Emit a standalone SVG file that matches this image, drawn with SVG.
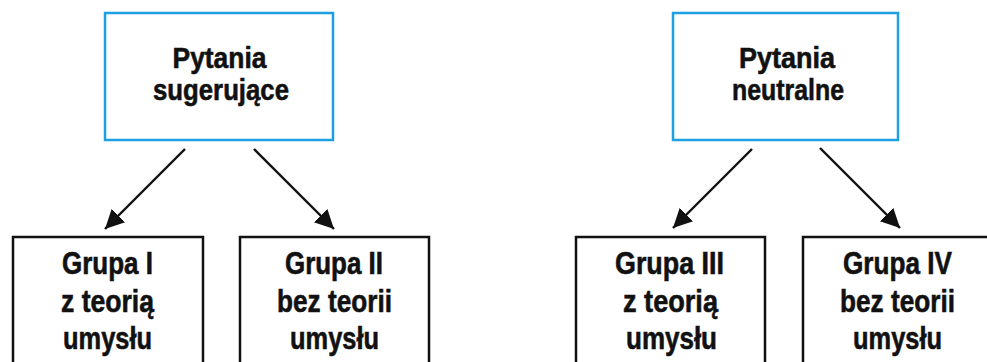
<svg xmlns="http://www.w3.org/2000/svg" width="987" height="362" viewBox="0 0 987 362">
<style>
.top{fill:#fff;stroke:#1ba1e2;stroke-width:2.5}
.grp{fill:#fff;stroke:#111;stroke-width:2.5}
text{font-family:"Liberation Sans",Arial,sans-serif;font-weight:bold;fill:#111;stroke:#111;stroke-width:0.6;text-anchor:middle}
.t{font-size:30px}
.b{font-size:32px}
.c{stroke:#111;stroke-width:2.4;fill:none}
</style>
<defs>
<marker id="ah" markerUnits="userSpaceOnUse" markerWidth="22" markerHeight="22" viewBox="0 0 22 22" refX="19" refY="11" orient="auto">
<path d="M0,1.5 L19,11 L0,20.5 Z" fill="#111"/>
</marker>
</defs>
<rect width="987" height="362" fill="#fff"/>
<g id="node-sugerujace">
<rect class="top" x="105" y="13" width="228" height="127"/>
<text class="t" x="219.5" y="68" textLength="94" lengthAdjust="spacingAndGlyphs">Pytania</text>
<text class="t" x="221" y="100" textLength="136" lengthAdjust="spacingAndGlyphs">sugerujące</text>
</g>
<g id="node-neutralne">
<rect class="top" x="673" y="13" width="225" height="127"/>
<text class="t" x="787" y="68" textLength="96" lengthAdjust="spacingAndGlyphs">Pytania</text>
<text class="t" x="788" y="100" textLength="112" lengthAdjust="spacingAndGlyphs">neutralne</text>
</g>
<g id="node-grupa1">
<rect class="grp" x="13" y="237" width="190" height="150"/>
<text class="b" x="107.5" y="274" textLength="91" lengthAdjust="spacingAndGlyphs">Grupa I</text>
<text class="b" x="107.5" y="312" textLength="93" lengthAdjust="spacingAndGlyphs">z teorią</text>
<text class="b" x="107.5" y="349" textLength="89" lengthAdjust="spacingAndGlyphs">umysłu</text>
</g>
<g id="node-grupa2">
<rect class="grp" x="240" y="237" width="189" height="150"/>
<text class="b" x="334" y="274" textLength="98" lengthAdjust="spacingAndGlyphs">Grupa II</text>
<text class="b" x="334.5" y="312" textLength="115" lengthAdjust="spacingAndGlyphs">bez teorii</text>
<text class="b" x="334.5" y="349" textLength="89" lengthAdjust="spacingAndGlyphs">umysłu</text>
</g>
<g id="node-grupa3">
<rect class="grp" x="576" y="237" width="189" height="150"/>
<text class="b" x="669.5" y="274" textLength="109" lengthAdjust="spacingAndGlyphs">Grupa III</text>
<text class="b" x="670.5" y="312" textLength="95" lengthAdjust="spacingAndGlyphs">z teorią</text>
<text class="b" x="671.5" y="349" textLength="91" lengthAdjust="spacingAndGlyphs">umysłu</text>
</g>
<g id="node-grupa4">
<rect class="grp" x="803" y="237" width="190" height="150"/>
<text class="b" x="897.5" y="274" textLength="109" lengthAdjust="spacingAndGlyphs">Grupa IV</text>
<text class="b" x="897.5" y="312" textLength="115" lengthAdjust="spacingAndGlyphs">bez teorii</text>
<text class="b" x="897.5" y="349" textLength="89" lengthAdjust="spacingAndGlyphs">umysłu</text>
</g>
<g id="connectors">
<line class="c" x1="185" y1="149" x2="105" y2="229" marker-end="url(#ah)"/>
<line class="c" x1="254" y1="149" x2="334" y2="229" marker-end="url(#ah)"/>
<line class="c" x1="752" y1="149" x2="673" y2="228" marker-end="url(#ah)"/>
<line class="c" x1="820" y1="148" x2="900" y2="228" marker-end="url(#ah)"/>
</g>
</svg>
